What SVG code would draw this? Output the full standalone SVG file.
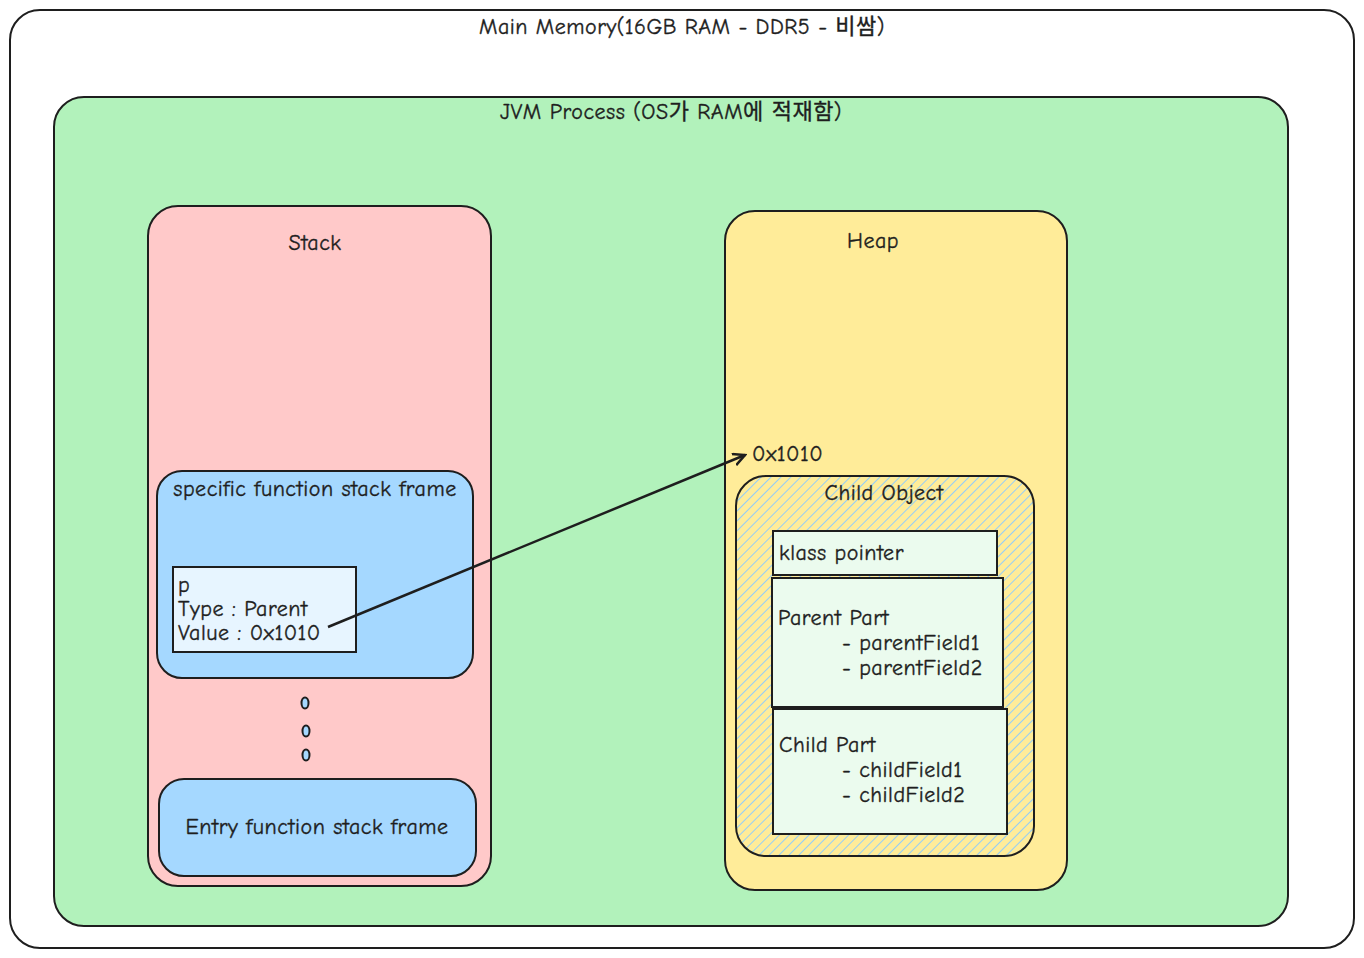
<svg xmlns="http://www.w3.org/2000/svg" width="1364" height="958" viewBox="0 0 1364 958">
<defs>
<style>
.box{stroke:#1e1e1e;stroke-width:2}
.t{font-family:"Comic Neue","Liberation Sans","Noto Sans CJK KR",sans-serif;font-size:22px;letter-spacing:0.5px;fill:#1e1e1e;stroke:#1e1e1e;stroke-width:0.35}
.c{text-anchor:middle}
.conn{stroke:#1e1e1e;stroke-width:2.5;fill:none}
</style>
<pattern id="hatch" patternUnits="userSpaceOnUse" width="7" height="7" patternTransform="rotate(45)">
<rect width="7" height="7" fill="#ffec99"/>
<line x1="0" y1="0" x2="0" y2="7" stroke="#94cdf7" stroke-width="2"/>
</pattern>
<marker id="arr" markerWidth="14" markerHeight="14" refX="12" refY="7" orient="auto" markerUnits="userSpaceOnUse">
<path d="M0,1 L12,7 L0,13" fill="none" stroke="#1e1e1e" stroke-width="2.5"/>
</marker>
</defs>
<rect width="1364" height="958" fill="#ffffff"/>
<g id="main-memory">
<rect class="box" x="10" y="10" width="1344" height="938" rx="30" fill="#ffffff"/>
<text class="t c" x="682" y="34">Main Memory(16GB RAM - DDR5 - 비쌈)</text>
</g>
<g id="jvm-process">
<rect class="box" x="54" y="97" width="1234" height="829" rx="30" fill="#b2f2bb"/>
<text class="t c" x="671" y="119">JVM Process (OS가 RAM에 적재함)</text>
</g>
<g id="stack">
<rect class="box" x="148" y="206" width="343" height="680" rx="30" fill="#ffc9c9"/>
<text class="t c" x="315" y="250">Stack</text>
</g>
<g id="heap">
<rect class="box" x="725" y="211" width="342" height="679" rx="30" fill="#ffec99"/>
<text class="t c" x="873" y="248">Heap</text>
<text class="t" x="752" y="461">0x1010</text>
</g>
<g id="specific-frame">
<rect class="box" x="157" y="471" width="316" height="207" rx="25" fill="#a5d8ff"/>
<text class="t c" x="315" y="496">specific function stack frame</text>
</g>
<g id="p-var">
<rect class="box" x="173" y="567" width="183" height="85" fill="#e7f5ff"/>
<text class="t" x="178" y="592">p</text>
<text class="t" x="178" y="616">Type : Parent</text>
<text class="t" x="178" y="640">Value : 0x1010</text>
</g>
<g id="dots" stroke="#1e1e1e" stroke-width="2" fill="#a5d8ff">
<ellipse cx="305" cy="703" rx="3.5" ry="5.5"/>
<ellipse cx="306" cy="731" rx="3.5" ry="5.5"/>
<ellipse cx="306" cy="755" rx="3.5" ry="5.5"/>
</g>
<g id="entry-frame">
<rect class="box" x="159" y="779" width="317" height="97" rx="25" fill="#a5d8ff"/>
<text class="t c" x="317" y="834">Entry function stack frame</text>
</g>
<g id="child-object">
<rect class="box" x="736" y="476" width="298" height="380" rx="30" fill="url(#hatch)"/>
<text class="t c" x="884" y="500">Child Object</text>
</g>
<g id="klass-pointer">
<rect class="box" x="773" y="531" width="224" height="44" fill="#ebfbee"/>
<text class="t" x="779" y="560">klass pointer</text>
</g>
<g id="parent-part">
<rect class="box" x="772" y="578" width="231" height="129" fill="#ebfbee"/>
<text class="t" x="778" y="625">Parent Part</text>
<text class="t" x="842" y="650">- parentField1</text>
<text class="t" x="842" y="675">- parentField2</text>
</g>
<g id="child-part">
<rect class="box" x="773" y="709" width="234" height="125" fill="#ebfbee"/>
<text class="t" x="779" y="752">Child Part</text>
<text class="t" x="842" y="777">- childField1</text>
<text class="t" x="842" y="802">- childField2</text>
</g>
<g id="connectors">
<path class="conn" d="M328,627 L745,455" marker-end="url(#arr)"/>
</g>
</svg>
